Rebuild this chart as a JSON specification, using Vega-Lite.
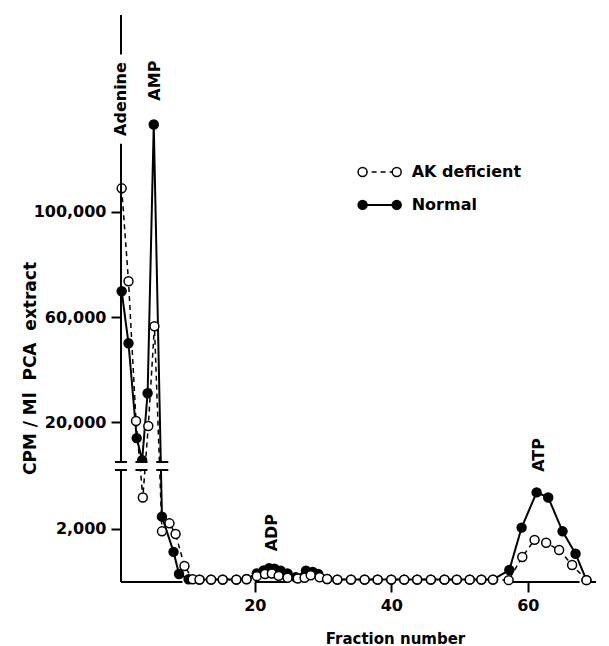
{
  "$schema": "https://vega.github.io/schema/vega-lite/v6.json",
  "width": 475,
  "height": 567,
  "autosize": {"type": "none"},
  "padding": {"left": 121, "top": 15, "right": 13, "bottom": 64},
  "background": "white",
  "config": {"view": {"stroke": null}, "font": "DejaVu Sans"},
  "datasets": {
    "fractions": [
      {"series": "Normal", "fraction": 0.5, "cpm": 69800},
      {"series": "Normal", "fraction": 1.5, "cpm": 50000},
      {"series": "Normal", "fraction": 2.7, "cpm": 13900},
      {"series": "Normal", "fraction": 3.5, "cpm": 5500},
      {"series": "Normal", "fraction": 4.3, "cpm": 31000},
      {"series": "Normal", "fraction": 5.2, "cpm": 133300},
      {"series": "Normal", "fraction": 6.4, "cpm": 2450},
      {"series": "Normal", "fraction": 8.1, "cpm": 1130},
      {"series": "Normal", "fraction": 8.9, "cpm": 300},
      {"series": "Normal", "fraction": 10.3, "cpm": 100},
      {"series": "Normal", "fraction": 11.9, "cpm": 90},
      {"series": "Normal", "fraction": 13.6, "cpm": 90},
      {"series": "Normal", "fraction": 15.3, "cpm": 90},
      {"series": "Normal", "fraction": 17.3, "cpm": 90},
      {"series": "Normal", "fraction": 18.8, "cpm": 110},
      {"series": "Normal", "fraction": 20.3, "cpm": 320},
      {"series": "Normal", "fraction": 21.3, "cpm": 430},
      {"series": "Normal", "fraction": 22.1, "cpm": 520},
      {"series": "Normal", "fraction": 22.9, "cpm": 500},
      {"series": "Normal", "fraction": 23.8, "cpm": 420},
      {"series": "Normal", "fraction": 24.8, "cpm": 320},
      {"series": "Normal", "fraction": 26.0, "cpm": 180},
      {"series": "Normal", "fraction": 27.5, "cpm": 420},
      {"series": "Normal", "fraction": 28.5, "cpm": 380},
      {"series": "Normal", "fraction": 29.3, "cpm": 300},
      {"series": "Normal", "fraction": 30.6, "cpm": 110},
      {"series": "Normal", "fraction": 32.1, "cpm": 90},
      {"series": "Normal", "fraction": 34.1, "cpm": 90},
      {"series": "Normal", "fraction": 36.1, "cpm": 90},
      {"series": "Normal", "fraction": 38.0, "cpm": 90},
      {"series": "Normal", "fraction": 40.0, "cpm": 90},
      {"series": "Normal", "fraction": 41.9, "cpm": 90},
      {"series": "Normal", "fraction": 43.8, "cpm": 90},
      {"series": "Normal", "fraction": 45.8, "cpm": 90},
      {"series": "Normal", "fraction": 47.8, "cpm": 90},
      {"series": "Normal", "fraction": 49.6, "cpm": 90},
      {"series": "Normal", "fraction": 51.5, "cpm": 90},
      {"series": "Normal", "fraction": 53.2, "cpm": 90},
      {"series": "Normal", "fraction": 54.9, "cpm": 90},
      {"series": "Normal", "fraction": 57.3, "cpm": 450},
      {"series": "Normal", "fraction": 59.1, "cpm": 2040},
      {"series": "Normal", "fraction": 61.3, "cpm": 3360},
      {"series": "Normal", "fraction": 63.0, "cpm": 3170},
      {"series": "Normal", "fraction": 65.1, "cpm": 1900},
      {"series": "Normal", "fraction": 67.0, "cpm": 1060},
      {"series": "Normal", "fraction": 68.6, "cpm": 70},
      {"series": "AK deficient", "fraction": 0.5, "cpm": 109000},
      {"series": "AK deficient", "fraction": 1.5, "cpm": 73600},
      {"series": "AK deficient", "fraction": 2.6, "cpm": 20400},
      {"series": "AK deficient", "fraction": 3.6, "cpm": 3170},
      {"series": "AK deficient", "fraction": 4.4, "cpm": 18500},
      {"series": "AK deficient", "fraction": 5.3, "cpm": 56500},
      {"series": "AK deficient", "fraction": 6.4, "cpm": 1900},
      {"series": "AK deficient", "fraction": 7.5, "cpm": 2200},
      {"series": "AK deficient", "fraction": 8.4, "cpm": 1800},
      {"series": "AK deficient", "fraction": 9.7, "cpm": 600},
      {"series": "AK deficient", "fraction": 10.9, "cpm": 100},
      {"series": "AK deficient", "fraction": 11.9, "cpm": 90},
      {"series": "AK deficient", "fraction": 13.6, "cpm": 90},
      {"series": "AK deficient", "fraction": 15.3, "cpm": 90},
      {"series": "AK deficient", "fraction": 17.3, "cpm": 90},
      {"series": "AK deficient", "fraction": 18.8, "cpm": 100},
      {"series": "AK deficient", "fraction": 20.3, "cpm": 220},
      {"series": "AK deficient", "fraction": 21.5, "cpm": 300},
      {"series": "AK deficient", "fraction": 22.5, "cpm": 320},
      {"series": "AK deficient", "fraction": 23.5, "cpm": 230},
      {"series": "AK deficient", "fraction": 24.8, "cpm": 160},
      {"series": "AK deficient", "fraction": 26.3, "cpm": 130},
      {"series": "AK deficient", "fraction": 27.3, "cpm": 160},
      {"series": "AK deficient", "fraction": 28.2, "cpm": 250},
      {"series": "AK deficient", "fraction": 29.5, "cpm": 180},
      {"series": "AK deficient", "fraction": 30.6, "cpm": 110},
      {"series": "AK deficient", "fraction": 32.1, "cpm": 90},
      {"series": "AK deficient", "fraction": 34.1, "cpm": 90},
      {"series": "AK deficient", "fraction": 36.1, "cpm": 90},
      {"series": "AK deficient", "fraction": 38.0, "cpm": 90},
      {"series": "AK deficient", "fraction": 40.0, "cpm": 90},
      {"series": "AK deficient", "fraction": 41.9, "cpm": 90},
      {"series": "AK deficient", "fraction": 43.8, "cpm": 90},
      {"series": "AK deficient", "fraction": 45.8, "cpm": 90},
      {"series": "AK deficient", "fraction": 47.8, "cpm": 90},
      {"series": "AK deficient", "fraction": 49.6, "cpm": 90},
      {"series": "AK deficient", "fraction": 51.5, "cpm": 90},
      {"series": "AK deficient", "fraction": 53.2, "cpm": 90},
      {"series": "AK deficient", "fraction": 54.9, "cpm": 90},
      {"series": "AK deficient", "fraction": 57.2, "cpm": 70},
      {"series": "AK deficient", "fraction": 59.2, "cpm": 940},
      {"series": "AK deficient", "fraction": 61.0, "cpm": 1580},
      {"series": "AK deficient", "fraction": 62.7, "cpm": 1470},
      {"series": "AK deficient", "fraction": 64.6, "cpm": 1200},
      {"series": "AK deficient", "fraction": 66.5, "cpm": 640},
      {"series": "AK deficient", "fraction": 68.6, "cpm": 70}
    ],
    "legendkey": [
      {"series": "AK deficient", "fraction": 35.8, "cpm": 115200},
      {"series": "AK deficient", "fraction": 40.8, "cpm": 115200},
      {"series": "Normal", "fraction": 35.8, "cpm": 102700},
      {"series": "Normal", "fraction": 40.8, "cpm": 102700}
    ],
    "legendtext": [
      {"label": "AK deficient", "fraction": 43.0, "cpm": 115200},
      {"label": "Normal", "fraction": 43.0, "cpm": 102700}
    ],
    "gap": [{"fraction": 0.4, "fraction_end": 9, "cpm": 4250, "cpm_end": 4750}],
    "breaks": [
      {"fraction": 0.4, "cpm": 4200}, {"fraction": 0.4, "cpm": 4800},
      {"fraction": 3.4, "cpm": 4200}, {"fraction": 3.4, "cpm": 4800},
      {"fraction": 6.45, "cpm": 4200}, {"fraction": 6.45, "cpm": 4800}
    ],
    "axisline": [
      {"fraction": 0.4, "cpm": 0, "cpm_end": 4200},
      {"fraction": 0.4, "cpm": 4800, "cpm_end": 126000},
      {"fraction": 0.4, "cpm": 160000, "cpm_end": 175000}
    ],
    "xaxisline": [
      {"fraction": 0.4, "fraction_end": 9.4, "cpm": 0},
      {"fraction": 20, "fraction_end": 24.7, "cpm": 0},
      {"fraction": 57.8, "fraction_end": 67.6, "cpm": 0},
      {"fraction": 69.2, "fraction_end": 70, "cpm": 0}
    ],
    "labels": [
      {"label": "Adenine", "fraction": 0.4, "cpm": 143000},
      {"label": "AMP", "fraction": 5.35, "cpm": 150000},
      {"label": "ADP", "fraction": 22.5, "cpm": 1850},
      {"label": "ATP", "fraction": 61.6, "cpm": 7500}
    ]
  },
  "encoding": {
    "x": {"field": "fraction", "type": "quantitative",
      "scale": {"domain": [0.4, 70], "zero": false, "nice": false},
      "axis": {"values": [20, 40, 60], "title": "Fraction number", "grid": false, "domain": false,
        "titleFont": "DejaVu Sans", "titleFontSize": 15, "titleFontWeight": "bold", "titleColor": "black",
        "titleX": 274, "titleY": 56, "titleAlign": "center", "titleBaseline": "middle",
        "labelFont": "DejaVu Sans", "labelFontSize": 16, "labelFontWeight": "bold", "labelColor": "black",
        "labelPadding": 5, "labelFlush": false,
        "tickSize": 10, "tickWidth": 2, "tickColor": "black"}},
    "y": {"field": "cpm", "type": "quantitative",
      "scale": {"domain": [0, 4200, 4800, 175000], "range": [567, 455, 447, 0], "zero": false, "nice": false},
      "axis": {"values": [2000, 20000, 60000, 100000], "format": ",d", "title": "CPM / Ml\u00a0 PCA\u00a0 extract", "grid": false,
        "domain": false,
        "titleFont": "DejaVu Sans", "titleFontSize": 17, "titleFontWeight": "bold", "titleColor": "black",
        "titleX": -91, "titleY": 353, "titleAngle": 270, "titleAlign": "center", "titleBaseline": "middle",
        "labelFont": "DejaVu Sans", "labelFontSize": 16, "labelFontWeight": "bold", "labelColor": "black",
        "labelPadding": 5, "labelFlush": false,
        "tickSize": 10, "tickWidth": 2, "tickColor": "black"}}
  },
  "layer": [
    {
      "data": {"name": "xaxisline"},
      "mark": {"type": "rule", "color": "black", "strokeWidth": 2},
      "encoding": {
        "x2": {"field": "fraction_end"}
      }
    },
    {
      "data": {"name": "fractions"},
      "mark": {"type": "line", "color": "black"},
      "encoding": {
        "strokeDash": {"field": "series", "type": "nominal",
          "scale": {"domain": ["AK deficient", "Normal"], "range": [[5, 4], [1, 0]]}, "legend": null},
        "strokeWidth": {"field": "series", "type": "nominal",
          "scale": {"domain": ["AK deficient", "Normal"], "range": [1.5, 2]}, "legend": null}
      }
    },
    {
      "data": {"name": "fractions"},
      "mark": {"type": "point", "shape": "circle", "filled": true, "size": 80, "stroke": "black", "strokeWidth": 1.5, "opacity": 1},
      "encoding": {
        "fill": {"field": "series", "type": "nominal",
          "scale": {"domain": ["AK deficient", "Normal"], "range": ["white", "black"]}, "legend": null}
      }
    },
    {
      "data": {"name": "legendkey"},
      "mark": {"type": "line", "color": "black"},
      "encoding": {
        "strokeDash": {"field": "series", "type": "nominal", "legend": null},
        "strokeWidth": {"field": "series", "type": "nominal", "legend": null}
      }
    },
    {
      "data": {"name": "legendkey"},
      "mark": {"type": "point", "shape": "circle", "filled": true, "size": 80, "stroke": "black", "strokeWidth": 1.5, "opacity": 1},
      "encoding": {
        "fill": {"field": "series", "type": "nominal", "legend": null}
      }
    },
    {
      "data": {"name": "legendtext"},
      "mark": {"type": "text", "align": "left", "baseline": "middle", "font": "DejaVu Sans", "fontSize": 16, "fontWeight": "bold", "color": "black"},
      "encoding": {
        "text": {"field": "label"}
      }
    },
    {
      "data": {"name": "gap"},
      "mark": {"type": "rect", "fill": "white"},
      "encoding": {
        "x2": {"field": "fraction_end"},
        "y2": {"field": "cpm_end"}
      }
    },
    {
      "data": {"name": "axisline"},
      "mark": {"type": "rule", "color": "black", "strokeWidth": 2},
      "encoding": {
        "y2": {"field": "cpm_end"}
      }
    },
    {
      "data": {"name": "breaks"},
      "mark": {"type": "tick", "orient": "horizontal", "color": "black", "size": 12, "thickness": 2, "opacity": 1},
      "encoding": {}
    },
    {
      "data": {"name": "labels"},
      "mark": {"type": "text", "angle": 270, "align": "center", "baseline": "middle", "font": "DejaVu Sans", "fontSize": 16, "fontWeight": "bold", "color": "black"},
      "encoding": {
        "text": {"field": "label"}
      }
    }
  ]
}
